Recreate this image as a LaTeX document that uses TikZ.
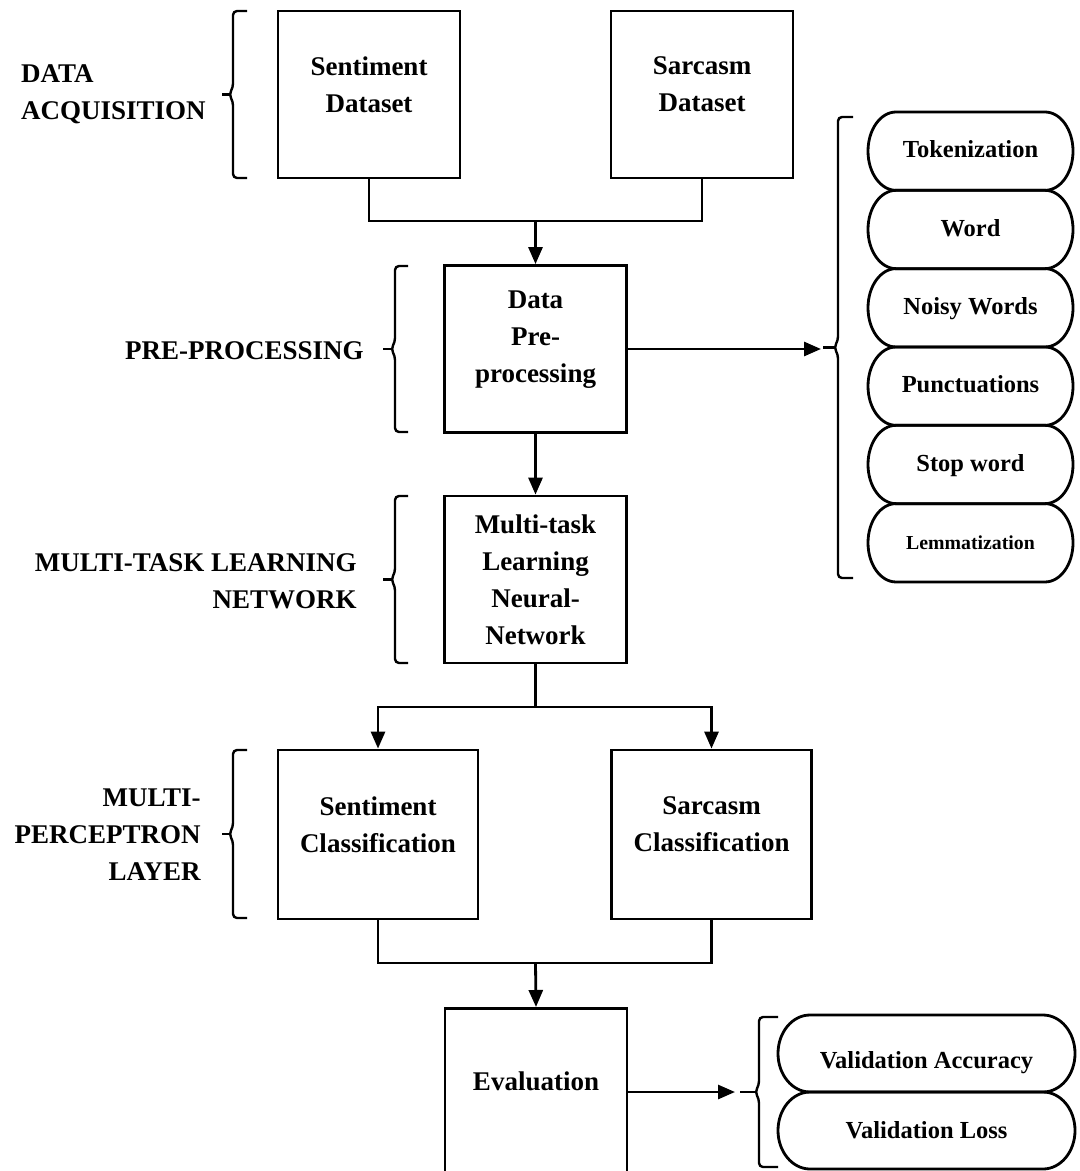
\documentclass[tikz,border=0pt]{standalone}
\usepackage{fontspec}
\setmainfont{Liberation Serif}
\usetikzlibrary{arrows.meta,positioning,calc}

% pill outline: left, top, right, bottom, end radius
\newcommand{\pill}[5]{%
  \draw ({#1+#5},{#2}) -- ({#3-#5},{#2})
    arc[start angle=-90,end angle=90,x radius=#5,y radius={((#4)-(#2))/2}]
    -- ({#1+#5},{#4})
    arc[start angle=90,end angle=270,x radius=#5,y radius={((#4)-(#2))/2}] -- cycle;}
% bracket: bar x, top, bottom, hook end x, tip x
\newcommand{\bracket}[5]{%
  \draw[brc] (#4,#2) -- (#1,#2) -- (#1,{(#2+#3)/2-7}) -- ({#1-4},{(#2+#3)/2})
    -- (#1,{(#2+#3)/2+7}) -- (#1,#3) -- (#4,#3);
  \draw[brc] ({#1-4},{(#2+#3)/2}) -- (#5,{(#2+#3)/2});}

\begin{document}
\begin{tikzpicture}[x=0.5pt,y=-0.5pt,line width=1.4pt,
  >={Triangle[length=8.5pt,width=7pt]},
  font=\fontsize{13.5}{18.5}\selectfont\bfseries,
  stage/.style={draw,inner sep=0pt,align=center,minimum width=91pt,minimum height=83.5pt},
  result/.style={stage,minimum width=100pt,minimum height=84.5pt},
  lift/.style={text depth=#1},
  tag/.style={inner sep=0pt,anchor=east},
  pilltext/.style={inner sep=0pt,font=\fontsize{12.25}{15}\selectfont\bfseries,text height=0.68em,text depth=0pt},
  brc/.style={line width=1.2pt,rounded corners=2pt}]
	\useasboundingbox (0,0) rectangle (1080,1171);
	\clip (0,0) rectangle (1080,1171);

	\node[stage,lift=10pt] (sentData) at (369,94.5) {Sentiment\\Dataset};
	\node[stage,lift=10pt] (sarcData) at (702,94.5) {Sarcasm\\Dataset};
	\node[stage,lift=12pt] (prep) at (535.5,349) {Data\\Pre-\\processing};
	\node[stage] (mtl) at (535.5,579.5) {Multi-task\\Learning\\Neural-\\Network};
	\node[result,lift=10pt] (sentCls) at (378,834.5) {Sentiment\\Classification};
	\node[result,lift=10pt] (sarcCls) at (711.5,834.5) {Sarcasm\\Classification};
	\node[stage,anchor=north,minimum height=95pt] (eval) at (536,1007) {};
	\node (evalTxt) at (536,1081) {Evaluation};

	\coordinate (join) at (535.5,221);
	\draw (sentData.south) |- (join) -| (sarcData.south);
	\draw [->] (join) -- (prep.north);
	\draw [->] (prep) -- (mtl);
	\coordinate (split) at (535.5,707);
	\draw (mtl.south) -- (split);
	\draw [->] (split) -| (sentCls.north);
	\draw [->] (split) -| (sarcCls.north);
	\coordinate (merge) at (535.5,963);
	\draw (sentCls.south) |- (merge) -| (sarcCls.south);
	\draw [->] (merge) -- (eval.north);

	\coordinate (listTip) at (821,349);
	\draw [->] (prep.east) -- (listTip);
	\coordinate (validTip) at (735,1092);
	\draw [->] (eval.east |- validTip) -- (validTip);

	\bracket{233}{11}{178}{247}{222}
	\bracket{395}{266}{432}{408}{383}
	\bracket{395}{496}{663}{408}{383}
	\bracket{233}{750}{918}{247}{222}
	\bracket{838}{117}{578}{853}{823}
	\bracket{759}{1017}{1167}{778}{740}

	\node[tag,align=left] (acq) at (207,94) {DATA\\ACQUISITION};
	\node[tag,align=right] (pre) at (365,351) {PRE-PROCESSING};
	\node[tag,align=right] (mtlTag) at (358,581) {MULTI-TASK LEARNING\\NETWORK};
	\node[tag,align=right] (mlp) at (202,835) {MULTI-\\PERCEPTRON\\LAYER};

	\foreach \txt [count=\i] in {Tokenization,Word,Noisy Words,Punctuations,Stop word,{\fontsize{9.9}{12}\selectfont Lemmatization}} {
		\pill{868}{112+78.33*(\i-1)}{1073}{112+78.33*\i}{28}
		\node[pilltext] (pp\i) at (970.5,{112+78.33*(\i-0.5)}) {\txt};
	}

	\pill{778}{1015}{1075}{1092}{32}
	\pill{778}{1092}{1075}{1169}{32}
	\node[pilltext] (valAcc) at (926.5,1062) {Validation Accuracy};
	\node[pilltext] (valLoss) at (926.5,1132) {Validation Loss};
\end{tikzpicture}
\end{document}
